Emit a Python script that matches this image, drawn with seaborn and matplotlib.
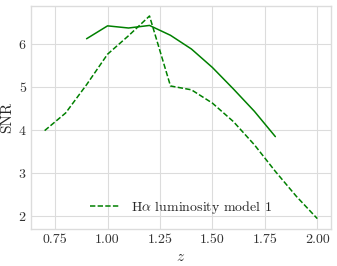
import numpy as np
import pandas as pd
import matplotlib
matplotlib.use("Agg")
import matplotlib.pyplot as plt
from matplotlib.ticker import MultipleLocator, FormatStrFormatter
import seaborn as sns

# redshift grid and SNR values
z_model1 = [0.7, 0.8, 0.9, 1.0, 1.1, 1.2, 1.3, 1.4, 1.5, 1.6, 1.7, 1.8, 1.9, 2.0]
snr_model1 = [3.98, 4.39, 5.05, 5.76, 6.19, 6.65, 5.02, 4.93, 4.62, 4.19, 3.65, 3.03, 2.45, 1.93]

z_other = [0.9, 1.0, 1.1, 1.2, 1.3, 1.4, 1.5, 1.6, 1.7, 1.8]
snr_other = [6.12, 6.42, 6.37, 6.43, 6.20, 5.88, 5.45, 4.95, 4.43, 3.84]

sns.set_style("whitegrid", {"grid.color": "#dcdcdc", "axes.edgecolor": "#dcdcdc"})
plt.rcParams["font.family"] = "serif"
plt.rcParams["font.serif"] = ["cmr10", "DejaVu Serif"]
plt.rcParams["mathtext.fontset"] = "cm"
plt.rcParams["axes.formatter.use_mathtext"] = True
plt.rcParams["axes.unicode_minus"] = False

df1 = pd.DataFrame({"z": z_model1, "SNR": snr_model1})
df2 = pd.DataFrame({"z": z_other, "SNR": snr_other})

fig, ax = plt.subplots(figsize=(3.37, 2.66), dpi=100)
sns.lineplot(data=df1, x="z", y="SNR", ax=ax, color="green", linestyle=(0, (3.5, 1.5)),
             linewidth=1.1, label=r"H$\alpha$ luminosity model 1")
sns.lineplot(data=df2, x="z", y="SNR", ax=ax, color="green", linewidth=1.1)

ax.xaxis.set_major_locator(MultipleLocator(0.25))
ax.xaxis.set_major_formatter(FormatStrFormatter("%.2f"))
ax.set_xlabel(r"$z$", fontsize=11, labelpad=3)
ax.set_ylabel("SNR", fontsize=11, labelpad=3)
ax.tick_params(axis="x", labelsize=10, length=0, pad=4, colors="#333333")
ax.tick_params(axis="y", labelsize=10, length=0, pad=3, colors="#333333")
ax.legend(loc="lower center", frameon=False, fontsize=10, handlelength=2.2)
for s in ax.spines.values():
    s.set_linewidth(1.0)

fig.subplots_adjust(left=0.092, right=0.982, top=0.978, bottom=0.14)
fig.savefig("out.png", dpi=100)
